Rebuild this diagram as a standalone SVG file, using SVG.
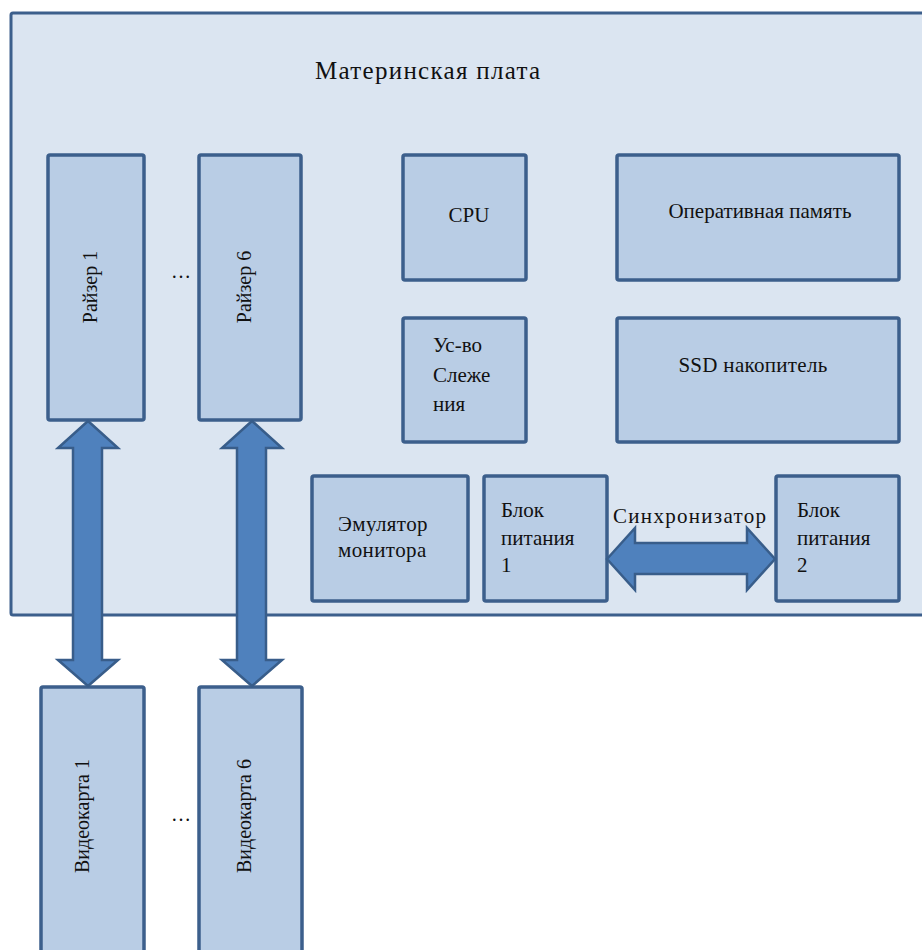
<svg xmlns="http://www.w3.org/2000/svg" width="922" height="950" viewBox="0 0 922 950">
<style>
.board{fill:#dbe5f1;stroke:#3c5f8c;stroke-width:3}
.box{fill:#b9cde5;stroke:#3c5f8c;stroke-width:3.5}
.arr{fill:#4f81bd;stroke:#385d8a;stroke-width:2.5;stroke-linejoin:miter}
text{font-family:"Liberation Serif","Times New Roman",serif;font-size:21px;fill:#111}
.t{font-size:25px;letter-spacing:1.3px}
.r{font-size:20px}
</style>
<rect width="922" height="950" fill="#ffffff"/>
<g id="board">
<rect class="board" x="11" y="13" width="930" height="602" rx="2"/>
<text class="t" x="315" y="79">Материнская плата</text>
</g>
<g id="riser1">
<rect class="box" x="48" y="155" width="96" height="265" rx="2"/>
<text class="r" transform="translate(97,287) rotate(-90)" text-anchor="middle">Райзер 1</text>
</g>
<text class="r" x="181" y="278" text-anchor="middle">…</text>
<g id="riser6">
<rect class="box" x="199" y="155" width="102" height="265" rx="2"/>
<text class="r" transform="translate(251,287) rotate(-90)" text-anchor="middle">Райзер 6</text>
</g>
<g id="cpu">
<rect class="box" x="403" y="155" width="123" height="125" rx="2"/>
<text x="469" y="222" text-anchor="middle">CPU</text>
</g>
<g id="ram">
<rect class="box" x="617" y="155" width="282" height="125" rx="2"/>
<text x="760" y="218" text-anchor="middle">Оперативная память</text>
</g>
<g id="tracker">
<rect class="box" x="403" y="318" width="123" height="124" rx="2"/>
<text x="433" y="352">Ус-во</text>
<text x="433" y="382">Слеже</text>
<text x="433" y="411">ния</text>
</g>
<g id="ssd">
<rect class="box" x="617" y="318" width="282" height="124" rx="2"/>
<text x="753" y="372" text-anchor="middle" letter-spacing="0.3">SSD накопитель</text>
</g>
<g id="emulator">
<rect class="box" x="312" y="476" width="156" height="125" rx="2"/>
<text x="338" y="531" letter-spacing="0.4">Эмулятор</text>
<text x="338" y="557" letter-spacing="0.4">монитора</text>
</g>
<g id="psu1">
<rect class="box" x="484" y="476" width="123" height="125" rx="2"/>
<text x="501" y="517">Блок</text>
<text x="501" y="545">питания</text>
<text x="501" y="572">1</text>
</g>
<g id="psu2">
<rect class="box" x="776" y="476" width="123" height="125" rx="2"/>
<text x="797" y="517">Блок</text>
<text x="797" y="545">питания</text>
<text x="797" y="572">2</text>
</g>
<g id="gpu1">
<rect class="box" x="41" y="687" width="103" height="280" rx="2"/>
<text class="r" transform="translate(89,816) rotate(-90)" text-anchor="middle">Видеокарта 1</text>
</g>
<text class="r" x="181" y="821" text-anchor="middle">…</text>
<g id="gpu6">
<rect class="box" x="199" y="687" width="103" height="280" rx="2"/>
<text class="r" transform="translate(251,816) rotate(-90)" text-anchor="middle">Видеокарта 6</text>
</g>
<g id="connectors">
<path class="arr" d="M88,421 L118,448 L102,448 L102,660 L118,660 L88,686 L58,660 L73,660 L73,448 L58,448 Z"/>
<path class="arr" d="M252,421 L282,448 L266,448 L266,660 L282,660 L252,686 L222,660 L237,660 L237,448 L222,448 Z"/>
<path class="arr" d="M607,559 L635,528 L635,543 L747,543 L747,528 L775,559 L747,590 L747,574 L635,574 L635,590 Z"/>
<text x="613" y="523" letter-spacing="1.3">Синхронизатор</text>
</g>
</svg>
